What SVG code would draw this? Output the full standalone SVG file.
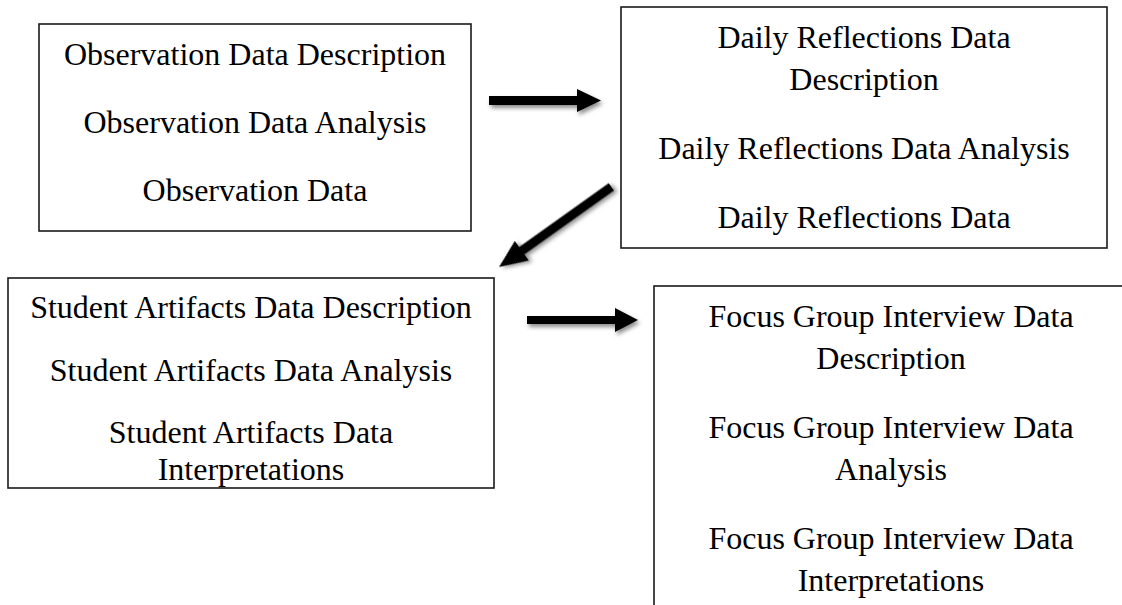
<svg xmlns="http://www.w3.org/2000/svg" width="1122" height="605" viewBox="0 0 1122 605">
  <defs>
    <style>
      .box { fill: #ffffff; stroke: #1a1a1a; stroke-width: 1.6; }
      .lbl { font-family: "Liberation Serif", "Times New Roman", serif; font-size: 32px; fill: #000000; text-anchor: middle; }
      .arrow { fill: #000000; filter: url(#shadow); }
    </style>
    <filter id="shadow" x="-20%" y="-50%" width="150%" height="200%">
      <feDropShadow dx="2" dy="3" stdDeviation="2.2" flood-color="#000000" flood-opacity="0.45"/>
    </filter>
  </defs>
  <rect width="1122" height="605" fill="#ffffff"/>

  <g id="node-observation">
    <rect class="box" x="39" y="24" width="432" height="207"/>
    <text class="lbl" x="255" y="65">Observation Data Description</text>
    <text class="lbl" x="255" y="133">Observation Data Analysis</text>
    <text class="lbl" x="255" y="201">Observation Data</text>
  </g>

  <g id="node-daily">
    <rect class="box" x="621" y="7" width="486" height="241"/>
    <text class="lbl" x="864" y="48">Daily Reflections Data</text>
    <text class="lbl" x="864" y="90">Description</text>
    <text class="lbl" x="864" y="159">Daily Reflections Data Analysis</text>
    <text class="lbl" x="864" y="228">Daily Reflections Data</text>
  </g>

  <g id="node-student">
    <rect class="box" x="8" y="278" width="486" height="210"/>
    <text class="lbl" x="251" y="318">Student Artifacts Data Description</text>
    <text class="lbl" x="251" y="381">Student Artifacts Data Analysis</text>
    <text class="lbl" x="251" y="443">Student Artifacts Data</text>
    <text class="lbl" x="251" y="480">Interpretations</text>
  </g>

  <g id="node-focus">
    <rect class="box" x="654" y="286" width="474" height="340"/>
    <text class="lbl" x="891" y="327">Focus Group Interview Data</text>
    <text class="lbl" x="891" y="369">Description</text>
    <text class="lbl" x="891" y="438">Focus Group Interview Data</text>
    <text class="lbl" x="891" y="480">Analysis</text>
    <text class="lbl" x="891" y="549">Focus Group Interview Data</text>
    <text class="lbl" x="891" y="591">Interpretations</text>
  </g>

  <g id="connectors">
    <path class="arrow" d="M489,96 L577,96 L577,89 L601,100.5 L577,112 L577,105 L489,105 Z"/>
    <path class="arrow" transform="translate(499,267) rotate(-35.5)" d="M0,0 L28,-12 L28,-4.5 L138,-4.5 L138,4.5 L28,4.5 L28,12 Z"/>
    <path class="arrow" d="M527,316 L615,316 L615,308 L638,320 L615,332 L615,324 L527,324 Z"/>
  </g>
</svg>
